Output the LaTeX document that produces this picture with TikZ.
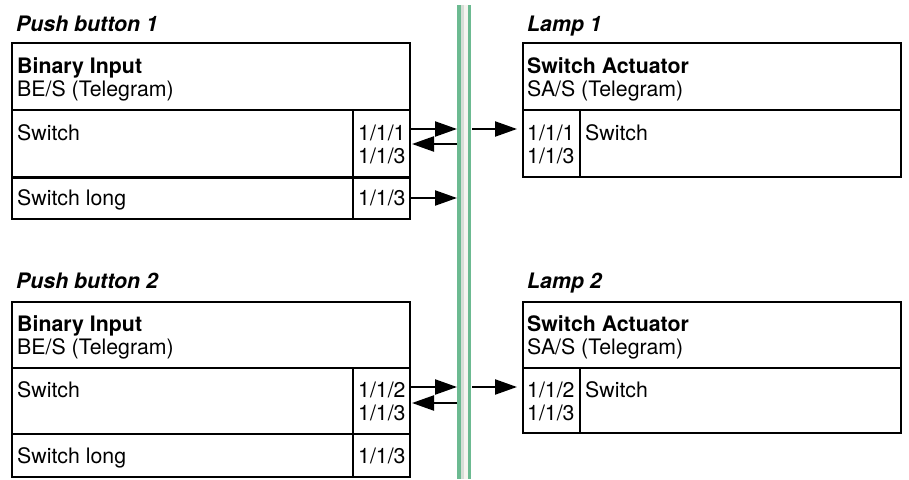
\documentclass[tikz,border=0pt]{standalone}
\usepackage{fontspec}
\setmainfont{TeX Gyre Heros}
\usetikzlibrary{arrows.meta}
\definecolor{busgreen}{RGB}{108,186,145}
\definecolor{busgray}{RGB}{214,221,214}
\definecolor{buswhite}{RGB}{246,244,240}
\begin{document}
\begin{tikzpicture}[x=1pt,y=-1pt,
  cell/.style={draw=black,line width=2pt,anchor=north west,inner sep=0pt,outer sep=0pt},
  txt/.style={anchor=base west,inner sep=0pt,font=\fontsize{21.3}{23.5}\selectfont},
  hd/.style={txt,font=\fontsize{21.3}{23.5}\selectfont\bfseries},
  ttl/.style={txt,font=\fontsize{21.3}{23.5}\selectfont\bfseries\itshape},
  arr/.style={line width=2.2pt,-{Triangle[length=22pt,width=15pt]}}]
\useasboundingbox (0,0) rectangle (909,479);

% bus
\node[anchor=north west,minimum width=14pt,minimum height=474pt,inner sep=0pt,outer sep=0pt] (bus) at (457,5) {};
\fill[busgreen] (bus.north west) rectangle (bus.south east);
\fill[busgray] ([xshift=4pt]bus.north west) rectangle ([xshift=7pt]bus.south west);
\fill[buswhite] ([xshift=7pt]bus.north west) rectangle ([xshift=11pt]bus.south west);

% ---------- Push button 1 ----------
\node[ttl] (pb1) at (16,31) {Push button 1};
\node[cell,minimum width=398pt,minimum height=67pt] (b1h) at (12,43) {};
\node[cell,minimum width=341pt,minimum height=67pt] (b1s) at (12,110) {};
\node[cell,minimum width=57pt,minimum height=67pt] (b1p) at (353,110) {};
\node[cell,minimum width=341pt,minimum height=42pt] (b1l) at (12,177) {};
\node[cell,minimum width=57pt,minimum height=42pt] (b1lp) at (353,177) {};
\draw[line width=3pt] (b1s.south west) -- (b1p.south east);
\node[hd] (b1t1) at (17,73) {Binary Input};
\node[txt] (b1t2) at (17,96) {BE/S (Telegram)};
\node[txt] (b1t3) at (17,140) {Switch};
\node[txt] (b1t4) at (358,140) {1/1/1};
\node[txt] (b1t5) at (358,163) {1/1/3};
\node[txt] (b1t6) at (17,205) {Switch long};
\node[txt] (b1t7) at (358,205) {1/1/3};

% ---------- Push button 2 ----------
\node[ttl] (pb2) at (16,288) {Push button 2};
\node[cell,minimum width=398pt,minimum height=66pt] (b2h) at (12,302) {};
\node[cell,minimum width=341pt,minimum height=66pt] (b2s) at (12,368) {};
\node[cell,minimum width=57pt,minimum height=66pt] (b2p) at (353,368) {};
\node[cell,minimum width=341pt,minimum height=43pt] (b2l) at (12,434) {};
\node[cell,minimum width=57pt,minimum height=43pt] (b2lp) at (353,434) {};
\node[hd] (b2t1) at (17,331) {Binary Input};
\node[txt] (b2t2) at (17,354) {BE/S (Telegram)};
\node[txt] (b2t3) at (17,397) {Switch};
\node[txt] (b2t4) at (358,397) {1/1/2};
\node[txt] (b2t5) at (358,420) {1/1/3};
\node[txt] (b2t6) at (17,463) {Switch long};
\node[txt] (b2t7) at (358,463) {1/1/3};

% ---------- Lamp 1 ----------
\node[ttl] (l1) at (527,31) {Lamp 1};
\node[cell,minimum width=378pt,minimum height=67pt] (l1h) at (523,43) {};
\node[cell,minimum width=57pt,minimum height=67pt] (l1p) at (523,110) {};
\node[cell,minimum width=321pt,minimum height=67pt] (l1s) at (580,110) {};
\node[hd] (l1t1) at (527,73) {Switch Actuator};
\node[txt] (l1t2) at (527,96) {SA/S (Telegram)};
\node[txt] (l1t3) at (527,140) {1/1/1};
\node[txt] (l1t4) at (527,163) {1/1/3};
\node[txt] (l1t5) at (585,140) {Switch};

% ---------- Lamp 2 ----------
\node[ttl] (l2) at (527,288) {Lamp 2};
\node[cell,minimum width=378pt,minimum height=66pt] (l2h) at (523,302) {};
\node[cell,minimum width=57pt,minimum height=65pt] (l2p) at (523,368) {};
\node[cell,minimum width=321pt,minimum height=65pt] (l2s) at (580,368) {};
\node[hd] (l2t1) at (527,331) {Switch Actuator};
\node[txt] (l2t2) at (527,354) {SA/S (Telegram)};
\node[txt] (l2t3) at (527,397) {1/1/2};
\node[txt] (l2t4) at (527,420) {1/1/3};
\node[txt] (l2t5) at (585,397) {Switch};

% ---------- arrows ----------
\coordinate (y1) at (0,129);
\coordinate (y2) at (0,144);
\coordinate (y3) at (0,198);
\coordinate (y4) at (0,387);
\coordinate (y5) at (0,403);
\draw[arr] ([xshift=1pt]b1p.east |- y1) -- (bus.west |- y1);
\draw[arr] (bus.west |- y2) -- ([xshift=2pt]b1p.east |- y2);
\draw[arr] ([xshift=1pt]b1lp.east |- y3) -- (bus.west |- y3);
\draw[arr] ([xshift=1pt]bus.east |- y1) -- ([xshift=-6pt]l1p.west |- y1);
\draw[arr] ([xshift=1pt]b2p.east |- y4) -- (bus.west |- y4);
\draw[arr] (bus.west |- y5) -- ([xshift=2pt]b2p.east |- y5);
\draw[arr] ([xshift=1pt]bus.east |- y4) -- ([xshift=-6pt]l2p.west |- y4);
\end{tikzpicture}
\end{document}
